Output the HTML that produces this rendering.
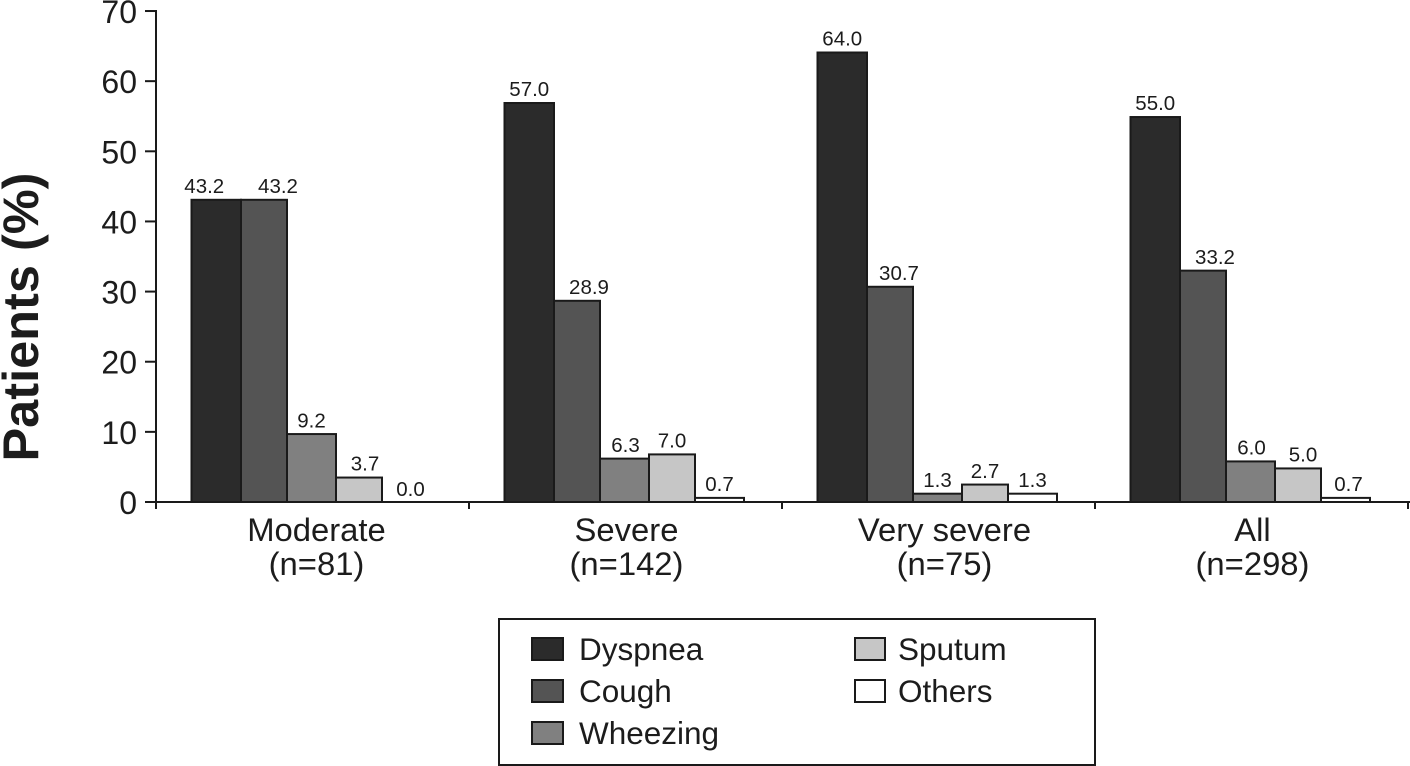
<!DOCTYPE html>
<html lang="en">
<head>
<meta charset="utf-8">
<title>Patients by symptom and severity</title>
<style>
html,body{margin:0;padding:0;background:#fff;width:1410px;height:766px;overflow:hidden}
svg{display:block;font-family:"Liberation Sans",Arial,sans-serif;fill:#1c1c1c}
</style>
</head>
<body>
<svg id="chart" width="1410" height="766" viewBox="0 0 1410 766" xmlns="http://www.w3.org/2000/svg">
  <text transform="translate(38,317) rotate(-90)" text-anchor="middle" font-size="50.5" font-weight="700">Patients (%)</text>
  <g id="bars"></g>
  <g id="axes"></g>
  <g id="legend">
    <rect x="499" y="619" width="596" height="146" fill="#fff" stroke="#1a1a1a" stroke-width="2"/>
  </g>
</svg>
<script>
const categories = ['Moderate', 'Severe', 'Very severe', 'All'];
const sampleSizes = ['(n=81)', '(n=142)', '(n=75)', '(n=298)'];
const seriesNames = ['Dyspnea', 'Cough', 'Wheezing', 'Sputum', 'Others'];
const dyspnea = [43.2, 57.0, 64.2, 55.0];
const cough = [43.2, 28.8, 30.8, 33.1];
const wheezing = [9.8, 6.3, 1.3, 5.9];
const sputum = [3.6, 6.9, 2.6, 4.9];
const others = [0, 0.7, 1.3, 0.7];
const dyspneaLabels = ['43.2', '57.0', '64.0', '55.0'];
const coughLabels = ['43.2', '28.9', '30.7', '33.2'];
const wheezingLabels = ['9.2', '6.3', '1.3', '6.0'];
const sputumLabels = ['3.7', '7.0', '2.7', '5.0'];
const othersLabels = ['0.0', '0.7', '1.3', '0.7'];
const yTicks = [0, 10, 20, 30, 40, 50, 60, 70];

const allSeries = [dyspnea, cough, wheezing, sputum, others];
const allLabels = [dyspneaLabels, coughLabels, wheezingLabels, sputumLabels, othersLabels];

/* layout */
const NS = 'http://www.w3.org/2000/svg';
const fills = ['#2b2b2b', '#545454', '#808080', '#c6c6c6', '#ffffff'];
const plot = {left: 156, groupW: 313, y0: 502, yPerUnit: 7.014};
const barEdges = [35.5, 85, 131, 180, 226, 275];
const labelShift = [[-12, 14, 0, 6, 4], [0, 12, 1, 0, 0], [0, 9, 0, 0, 0], [0, 12, 1, 5, 3]];
const categoryNudge = [4, 1, 6, 1];
const yScale = v => plot.y0 - v * plot.yPerUnit;
const groupX = i => plot.left + i * plot.groupW;
const barsG = document.getElementById('bars');
const axesG = document.getElementById('axes');
const legendG = document.getElementById('legend');

function make(tag, attrs, parent, content) {
  const el = document.createElementNS(NS, tag);
  for (const k in attrs) el.setAttribute(k, attrs[k]);
  if (content !== undefined) el.textContent = content;
  parent.appendChild(el);
  return el;
}

categories.forEach((cat, c) => {
  allSeries.forEach((series, s) => {
    const x0 = groupX(c) + barEdges[s];
    const x1 = groupX(c) + barEdges[s + 1];
    const top = yScale(series[c]);
    if (series[c] > 0) {
      const bar = make('rect', {x: x0, y: top + 0.8, width: x1 - x0, height: plot.y0 - top - 0.8, fill: fills[s], stroke: '#1a1a1a', 'stroke-width': 2}, barsG);
      
      
    }
    const label = make('text', {x: (x0 + x1) / 2 + labelShift[c][s], y: top - 6, 'text-anchor': 'middle', 'font-size': 20.5}, barsG, allLabels[s][c]);
    
    
  });
});

const yLine = make('line', {x1: plot.left, x2: plot.left, y1: yScale(70) - 1, y2: plot.y0 + 7, stroke: '#1a1a1a', 'stroke-width': 2}, axesG);


const xLine = make('line', {x1: plot.left - 11, x2: 1410, y1: plot.y0, y2: plot.y0, stroke: '#1a1a1a', 'stroke-width': 2}, axesG);



yTicks.forEach(t => {
  const tick = make('line', {x1: plot.left - 11, x2: plot.left, y1: yScale(t), y2: yScale(t), stroke: '#1a1a1a', 'stroke-width': 2}, axesG);
  
  
  const lab = make('text', {x: 137, y: yScale(t) + 12, 'text-anchor': 'end', 'font-size': 32}, axesG, String(t));
  
  
});

for (let i = 1; i <= categories.length; i++) {
  const tick = make('line', {x1: groupX(i), x2: groupX(i), y1: plot.y0, y2: plot.y0 + 7, stroke: '#1a1a1a', 'stroke-width': 2}, axesG);
  
  
}

categories.forEach((cat, c) => {
  const cx = groupX(c) + plot.groupW / 2 + categoryNudge[c];
  const l1 = make('text', {x: cx, y: 541, 'text-anchor': 'middle', 'font-size': 32.8}, axesG, cat);
  
  
  const l2 = make('text', {x: cx, y: 575, 'text-anchor': 'middle', 'font-size': 32.8}, axesG, sampleSizes[c]);
  
  
});

const legendCols = [{sx: 532, tx: 579}, {sx: 855, tx: 898}];
const legendRows = [638, 680, 722];
seriesNames.forEach((name, i) => {
  const col = legendCols[i < 3 ? 0 : 1];
  const ry = legendRows[i < 3 ? i : i - 3];
  const sw = make('rect', {x: col.sx, y: ry, width: i < 3 ? 31 : 30, height: 22, fill: fills[i], stroke: '#1a1a1a', 'stroke-width': 2}, legendG);
  
  
  const t = make('text', {x: col.tx, y: ry + 22, 'font-size': 31.5}, legendG, name);
  
  
});
</script>
</body>
</html>
